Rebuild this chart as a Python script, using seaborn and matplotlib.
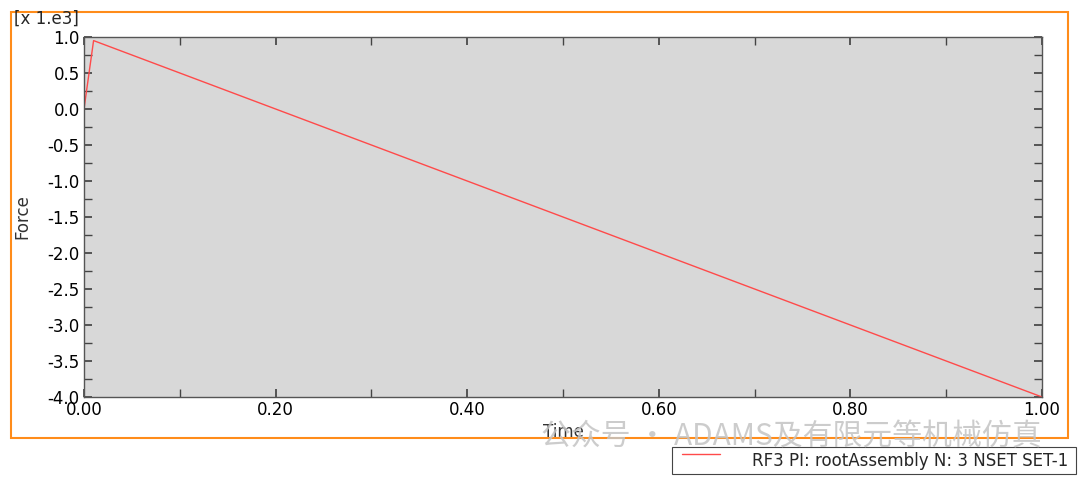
import numpy as np
import pandas as pd
import matplotlib
matplotlib.use("Agg")
import matplotlib.pyplot as plt
import matplotlib.patches as mpatches
from matplotlib.ticker import MultipleLocator
import seaborn as sns

# Data (force in units of 1e3)
time = [0.0, 0.01, 1.0]
force = [0.0, 0.95, -4.0]
series_name = "RF3 PI: rootAssembly N: 3 NSET SET-1"

df = pd.DataFrame({"Time": time, "Force": force})

sns.set_theme(style="ticks")
plt.rcParams["font.family"] = ["DejaVu Sans", "Noto Sans CJK SC"]

fig = plt.figure(figsize=(10.8, 4.83), dpi=100)
ax = fig.add_axes([84 / 1080, 1 - 397 / 483, 958 / 1080, 360 / 483])

sns.lineplot(data=df, x="Time", y="Force", ax=ax, color="#ff4a4a",
             linewidth=1.0, sort=False, legend=False)

ax.set_facecolor("#d8d8d8")
ax.set_xlim(0, 1.0)
ax.set_ylim(-4.0, 1.0)
ax.xaxis.set_major_locator(MultipleLocator(0.2))
ax.xaxis.set_minor_locator(MultipleLocator(0.1))
ax.yaxis.set_major_locator(MultipleLocator(0.5))
ax.yaxis.set_minor_locator(MultipleLocator(0.25))
ax.xaxis.set_major_formatter(matplotlib.ticker.FormatStrFormatter("%.2f"))
ax.yaxis.set_major_formatter(matplotlib.ticker.FormatStrFormatter("%.1f"))
ax.tick_params(which="both", direction="in", top=True, right=True,
               colors="#444444", labelcolor="black", labelsize=12, pad=3)
ax.tick_params(which="both", length=6)
for s in ax.spines.values():
    s.set_color("#555555")
    s.set_linewidth(1.0)

ax.set_xlabel("Time", fontsize=12, color="#333333", labelpad=3)
ax.set_ylabel("Force", fontsize=12, color="#333333", labelpad=12)

fig.text(14 / 1080, 1 - 19 / 483, "[x 1.e3]", fontsize=12, va="center", ha="left")

# orange frame around the viewport
fig.patches.append(mpatches.Rectangle((11 / 1080, 1 - 438 / 483), 1057 / 1080, 426 / 483,
                                      transform=fig.transFigure, fill=False,
                                      edgecolor="#ff8c1a", linewidth=1.5))

# legend box
fig.patches.append(mpatches.Rectangle((672 / 1080, 1 - 474 / 483), 404 / 1080, 27 / 483,
                                      transform=fig.transFigure, fill=False,
                                      edgecolor="#444444", linewidth=0.8))
fig.lines.append(matplotlib.lines.Line2D([682 / 1080, 720 / 1080], [1 - 454 / 483, 1 - 454 / 483],
                                         transform=fig.transFigure, color="#ff4a4a", linewidth=1.0))
fig.text(1068 / 1080, 1 - 461 / 483, series_name, fontsize=12, ha="right", va="center")

# watermark
fig.text(541 / 1080, 1 - 437 / 483, "公众号 · ADAMS及有限元等机械仿真", fontsize=21.5,
         ha="left", va="center", color="#c4c4c4", alpha=0.85,
         family=["Noto Sans CJK SC", "DejaVu Sans"])

fig.savefig("out.png", dpi=100)
